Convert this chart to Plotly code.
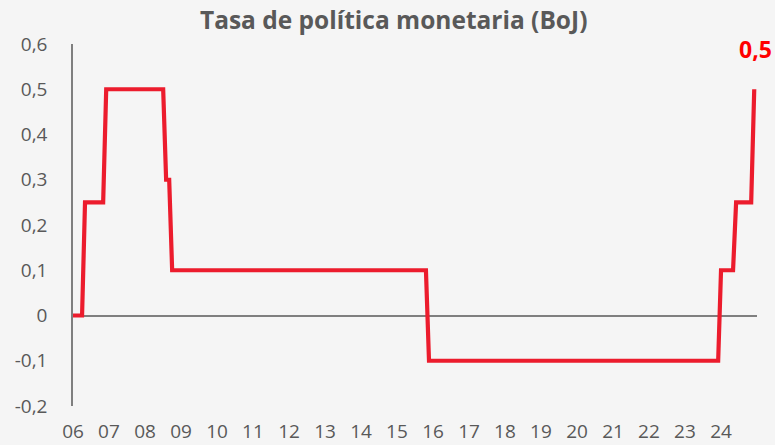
import numpy as np
import pandas as pd
import plotly.graph_objects as go

# ---- data ----
dates = ["2006-03-01", "2006-06-01", "2006-07-01", "2007-01-01", "2007-02-01",
         "2008-09-01", "2008-10-01", "2008-11-01", "2008-12-01", "2015-12-20",
         "2016-01-20", "2024-02-01", "2024-03-01", "2024-07-01", "2024-08-01",
         "2025-01-01", "2025-02-01"]
rates = [0.0, 0.0, 0.25, 0.25, 0.5,
         0.5, 0.3, 0.3, 0.1, 0.1,
         -0.1, -0.1, 0.1, 0.1, 0.25,
         0.25, 0.5]
x_tick_labels = ["06", "07", "08", "09", "10", "11", "12", "13", "14", "15",
                 "16", "17", "18", "19", "20", "21", "22", "23", "24"]
y_tick_values = [-0.2, -0.1, 0, 0.1, 0.2, 0.3, 0.4, 0.5, 0.6]
y_tick_labels = ["-0,2", "-0,1", "0", "0,1", "0,2", "0,3", "0,4", "0,5", "0,6"]
title_text = "Tasa de política monetaria (BoJ)"
last_label = "0,5"

# ticks on each March (axis base month)
x_tick_vals = [f"20{lab}-03-01" for lab in x_tick_labels]

grey = "#595959"
fig = go.Figure()
fig.add_trace(go.Scatter(
    x=pd.to_datetime(dates), y=rates, mode="lines",
    line=dict(color="#EC1C2D", width=4.2),
    hoverinfo="skip", showlegend=False,
))
fig.add_annotation(
    x=pd.to_datetime(dates[-1]), y=rates[-1], text=f"<b>{last_label}</b>",
    showarrow=False, yanchor="bottom", xanchor="center", yshift=22, xshift=1,
    font=dict(family="Open Sans", size=23, color="#FF0000"),
)
fig.update_layout(
    width=775, height=445,
    margin=dict(l=73, r=18, t=44, b=39, autoexpand=False),
    paper_bgcolor="#F5F5F5", plot_bgcolor="#F5F5F5",
    title=dict(text=f"<b>{title_text}</b>", x=0.508, xanchor="center",
               y=0.955, yanchor="middle", yref="container",
               font=dict(family="Open Sans", size=24.5, color=grey)),
    font=dict(family="Open Sans", size=19, color=grey),
)
fig.update_xaxes(
    type="date", range=["2006-03-01", "2025-03-01"], automargin=False,
    tickmode="array", tickvals=x_tick_vals, ticktext=x_tick_labels,
    showgrid=False, zeroline=False, showline=False, ticks="",
    ticklabelstandoff=12, tickfont=dict(size=19, color=grey),
)
fig.update_yaxes(
    range=[-0.2, 0.6], tickmode="array", tickvals=y_tick_values, ticktext=y_tick_labels,
    automargin=False,
    showgrid=False, zeroline=True, zerolinecolor="#7F7F7F", zerolinewidth=1.5,
    showline=True, linecolor="#7F7F7F", linewidth=1.5, ticks="",
    ticklabelstandoff=20, tickfont=dict(size=19, color=grey),
)
fig.write_html("out.html", config={"displayModeBar": False},
               post_script="document.body.style.margin='0';document.body.style.background='#F5F5F5';")
